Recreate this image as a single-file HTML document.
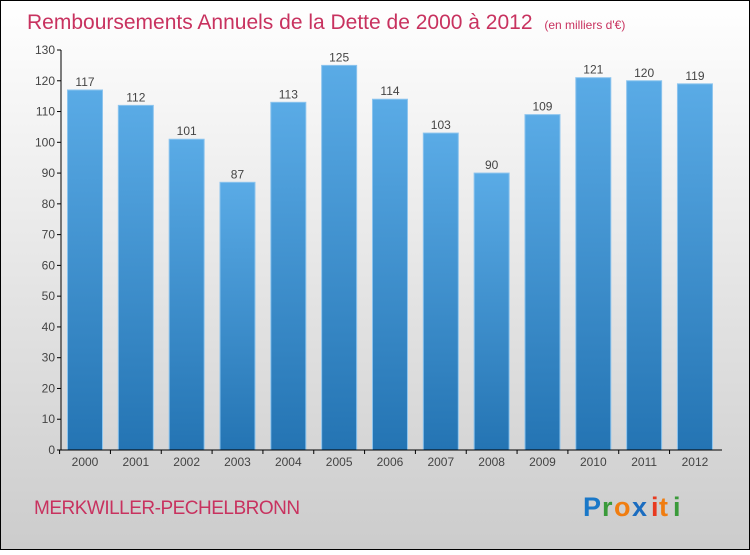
<!DOCTYPE html>
<html><head><meta charset="utf-8"><style>
body{margin:0}
#c{width:750px;height:550px;position:relative;font-family:"Liberation Sans",sans-serif}
</style></head><body>
<div id="c">
<svg id="s" width="750" height="550" xmlns="http://www.w3.org/2000/svg">
<defs>
<linearGradient id="bg" x1="0" y1="0" x2="0" y2="1"><stop offset="0" stop-color="#ffffff"/><stop offset="1" stop-color="#cccccc"/></linearGradient>
<linearGradient id="bar" x1="0" y1="0" x2="0" y2="1"><stop offset="0" stop-color="#5aabe6"/><stop offset="1" stop-color="#2474b3"/></linearGradient>
</defs>
<rect x="0.5" y="0.5" width="749" height="549" fill="url(#bg)" stroke="#000"/>
<text x="27" y="29" font-size="21" fill="#c8325f">Remboursements Annuels de la Dette de 2000 à 2012 <tspan font-size="12" dx="6">(en milliers d'€)</tspan></text>
<text x="34" y="514" font-size="19" fill="#c8325f" letter-spacing="-0.5">MERKWILLER-PECHELBRONN</text>
<g id="logo" font-size="27" font-weight="bold" font-family="'Liberation Sans',sans-serif">
<text x="583" y="516" fill="#1a78c8">P</text><text x="602" y="516" fill="#3a9a3a">r</text><text x="614" y="516" fill="#f07d10">o</text><text x="632" y="516" fill="#1a6cc0">x</text><text x="651" y="516" fill="#e83a20">i</text><text x="659" y="516" fill="#f07d10">t</text><text x="673" y="516" fill="#3a9a3a">i</text>
</g>
<g id="plot"></g>
</svg>
</div>
<script>
const categories=["2000","2001","2002","2003","2004","2005","2006","2007","2008","2009","2010","2011","2012"];
const values=[117,112,101,87,113,125,114,103,90,109,121,120,119];
const yTicks=[0,10,20,30,40,50,60,70,80,90,100,110,120,130];
const NS="http://www.w3.org/2000/svg";
const g=document.getElementById('plot');
const y=v=>450-v*400/130;
const x=i=>85+i*50.83;
function mk(t,a){const e=document.createElementNS(NS,t);for(const k in a)e.setAttribute(k,a[k]);g.appendChild(e);return e;}
yTicks.forEach(v=>{
 const l=mk('line',{x1:57,x2:61,y1:y(v),y2:y(v),stroke:'#000'});
 
 
 const t=mk('text',{x:55,y:y(v)+4,'text-anchor':'end','font-size':12,fill:'#444'});
 t.textContent=v;
 
 
});
values.forEach((v,i)=>{
 const r=mk('rect',{x:x(i)-17.5,y:y(v),width:35,height:450-y(v),fill:'url(#bar)',stroke:'#8cc4ee','stroke-width':1});
 
 
 const t=mk('text',{x:x(i),y:y(v)-4,'text-anchor':'middle','font-size':12,fill:'#444'});
 t.textContent=v;
 
 
 const c=mk('text',{x:x(i),y:466,'text-anchor':'middle','font-size':12,fill:'#444'});
 c.textContent=categories[i];
 
 
 const tk=mk('line',{x1:x(i)-25.4,x2:x(i)-25.4,y1:450,y2:454,stroke:'#000'});
 
 
});
const ya=mk('line',{x1:61,x2:61,y1:50,y2:450,stroke:'#000'});


const xa=mk('line',{x1:61,x2:722,y1:450,y2:450,stroke:'#000'});


</script>
</body></html>
